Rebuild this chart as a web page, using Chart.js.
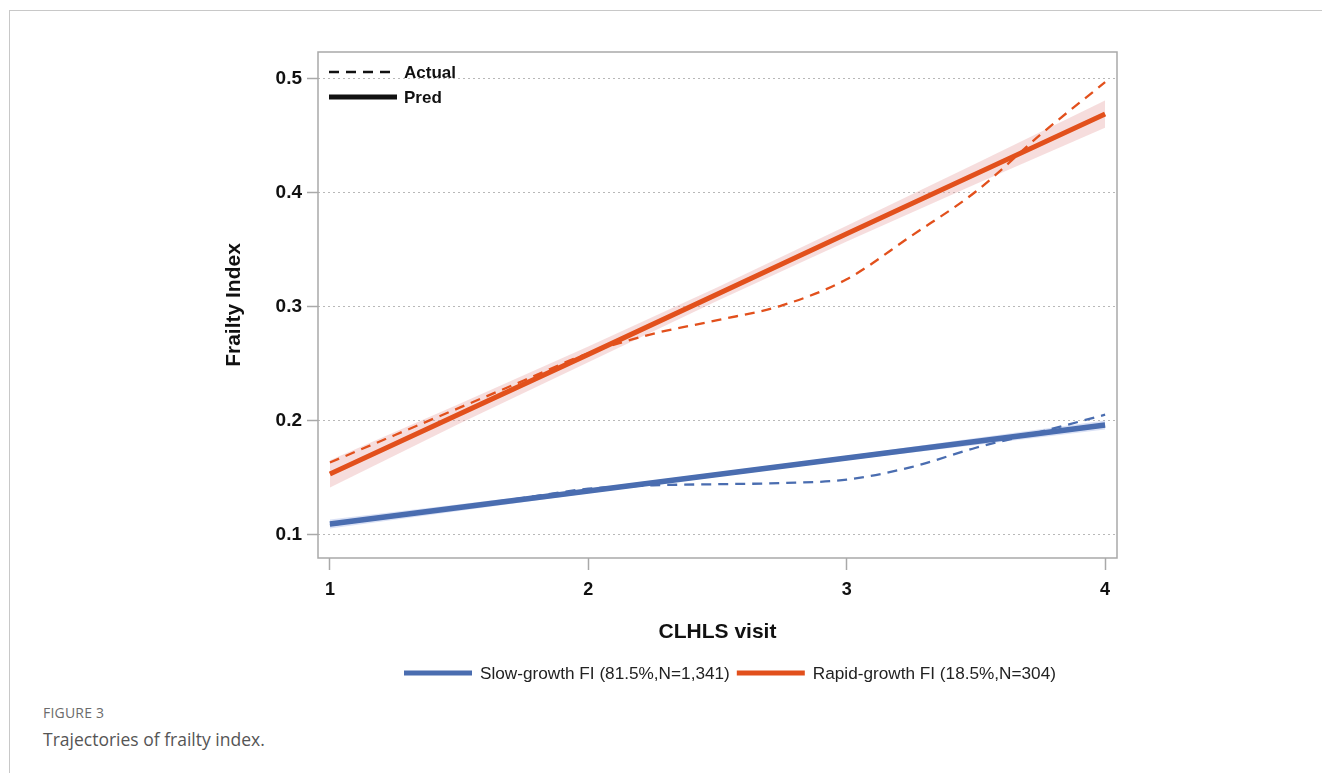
<!DOCTYPE html>
<html>
<head>
<meta charset="utf-8">
<script src="https://cdn.jsdelivr.net/npm/chart.js@4"></script>
<style>
  body { margin: 0; background: #fff; width: 1322px; height: 773px; overflow: hidden; position: relative; }
  .frame { position: absolute; left: 9px; top: 10px; right: 0; bottom: 0; border-top: 1.5px solid #c8c8c8; border-left: 1.5px solid #c8c8c8; }
  #wrap { position: absolute; left: 200px; top: 30px; width: 960px; height: 670px; }
  .figno { position: absolute; left: 43px; top: 703px; font: 14px "Open Sans", Lato, sans-serif; color: #6b6b6b; letter-spacing: 0.2px; }
  .figcap { position: absolute; left: 43px; top: 727px; font: 17.5px "Open Sans", Lato, sans-serif; color: #555; }
</style>
</head>
<body>
<div class="frame"></div>
<div id="wrap"><canvas id="myChart" width="960" height="670"></canvas></div>
<div class="figno">FIGURE 3</div>
<div class="figcap">Trajectories of frailty index.</div>
<script>
const visits = [1, 2, 3, 4];
const yTicks = [0.1, 0.2, 0.3, 0.4, 0.5];

// predicted trajectories (linear)
const slowPred = [0.109, 0.138, 0.167, 0.196];
const rapidPred = [0.153, 0.258, 0.364, 0.469];

// observed means
const actualX = [1, 1.25, 1.5, 1.75, 2, 2.25, 2.5, 2.75, 3, 3.25, 3.5, 3.75, 4];
const slowActual = [0.108, 0.116, 0.124, 0.132, 0.140, 0.143, 0.144, 0.145, 0.148, 0.159, 0.176, 0.190, 0.205];
const rapidActual = [0.163, 0.187, 0.211, 0.235, 0.259, 0.276, 0.288, 0.301, 0.324, 0.362, 0.401, 0.451, 0.497];

// confidence bands
const bandX = [1, 1.5, 2, 2.5, 3, 3.5, 4];
const slowLow = [0.105, 0.1205, 0.136, 0.1505, 0.165, 0.1785, 0.192];
const slowHigh = [0.113, 0.1265, 0.140, 0.1545, 0.169, 0.1845, 0.200];
const rapidLow = [0.141, 0.197, 0.251, 0.305, 0.357, 0.4075, 0.457];
const rapidHigh = [0.165, 0.2145, 0.265, 0.317, 0.371, 0.4255, 0.481];

const groupNames = ["Slow-growth FI (81.5%,N=1,341)", "Rapid-growth FI (18.5%,N=304)"];

const BLUE = "#4a6db0";
const ORANGE = "#e2501c";
const FONT = "'Liberation Sans', Arial, sans-serif";

function pts(xs, ys) {
  return xs.map((x, i) => ({ x: x, y: ys[i] }));
}

const extras = {
  id: "extras",
  afterDatasetsDraw(chart) {
    const ctx = chart.ctx;
    const a = chart.chartArea;
    ctx.save();
    // plot frame
    ctx.strokeStyle = "#a9a9a9";
    ctx.lineWidth = 1.5;
    ctx.strokeRect(a.left, a.top, a.right - a.left, a.bottom - a.top);

    // inner legend (Actual / Pred)
    ctx.strokeStyle = "#111";
    ctx.lineCap = "butt";
    ctx.lineWidth = 2.5;
    ctx.setLineDash([10, 7]);
    ctx.beginPath(); ctx.moveTo(129, 42); ctx.lineTo(196, 42); ctx.stroke();
    ctx.setLineDash([]);
    ctx.lineWidth = 5;
    ctx.beginPath(); ctx.moveTo(129, 67); ctx.lineTo(197, 67); ctx.stroke();
    ctx.fillStyle = "#111";
    ctx.font = "bold 17px " + FONT;
    ctx.textBaseline = "middle";
    ctx.fillText("Actual", 204, 43);
    ctx.fillText("Pred", 204, 68);

    // bottom legend
    ctx.font = "17.2px " + FONT;
    ctx.fillStyle = "#222";
    let x = 204;
    const y = 643;
    [BLUE, ORANGE].forEach((c, i) => {
      ctx.strokeStyle = c;
      ctx.lineWidth = 5;
      ctx.beginPath(); ctx.moveTo(x, y); ctx.lineTo(x + 68, y); ctx.stroke();
      x += 76;
      ctx.fillText(groupNames[i], x, y + 1);
      x += ctx.measureText(groupNames[i]).width + 7;
    });
    ctx.restore();
  }
};

const ctx = document.getElementById("myChart").getContext("2d");
new Chart(ctx, {
  type: "line",
  data: {
    datasets: [
      { data: pts(bandX, rapidHigh), order: 10, borderWidth: 0, pointRadius: 0, fill: "+1", backgroundColor: "rgba(226,150,150,0.32)" },
      { data: pts(bandX, rapidLow), order: 11, borderWidth: 0, pointRadius: 0, fill: false },
      { data: pts(bandX, slowHigh), order: 12, borderWidth: 0, pointRadius: 0, fill: "+1", backgroundColor: "rgba(150,170,225,0.35)" },
      { data: pts(bandX, slowLow), order: 13, borderWidth: 0, pointRadius: 0, fill: false },
      { label: groupNames[0], order: 3, data: pts(visits, slowPred), borderColor: BLUE, borderWidth: 5.5, pointRadius: 0 },
      { label: groupNames[1], order: 2, data: pts(visits, rapidPred), borderColor: ORANGE, borderWidth: 5, pointRadius: 0 },
      { order: 1, data: pts(actualX, slowActual), borderColor: BLUE, borderWidth: 2.3, borderDash: [10, 7], pointRadius: 0, cubicInterpolationMode: "monotone" },
      { order: 0, data: pts(actualX, rapidActual), borderColor: ORANGE, borderWidth: 2.3, borderDash: [10, 7], pointRadius: 0, cubicInterpolationMode: "monotone" }
    ]
  },
  options: {
    responsive: false,
    animation: false,
    layout: { padding: { top: 22, right: 43, left: 0, bottom: 0 } },
    plugins: { legend: { display: false }, tooltip: { enabled: false } },
    scales: {
      x: {
        type: "linear",
        min: 0.954,
        max: 4.046,
        afterBuildTicks: (s) => { s.ticks = visits.map(v => ({ value: v })); },
        afterFit: (s) => { s.height = 142; },
        grid: { drawOnChartArea: false, tickLength: 12, tickColor: "#a9a9a9", tickWidth: 1.5 },
        border: { display: false },
        ticks: { padding: 9, color: "#111", font: { family: FONT, size: 18, weight: "bold" }, callback: (v) => v },
        title: { display: true, text: "CLHLS visit", color: "#111", font: { family: FONT, size: 21, weight: "bold" }, padding: { top: 0, bottom: 55 } }
      },
      y: {
        min: 0.0792,
        max: 0.5235,
        afterBuildTicks: (s) => { s.ticks = yTicks.map(v => ({ value: v })); },
        afterFit: (s) => { s.width = 118; },
        grid: { color: "#b8b8b8", lineWidth: 1, tickLength: 11, tickColor: "#a9a9a9", tickWidth: 1.5, tickBorderDash: [] },
        border: { display: false, dash: [2, 3] },
        ticks: { padding: 5, color: "#111", font: { family: FONT, size: 19, weight: "bold" }, callback: (v) => v.toFixed(1) },
        title: { display: true, text: "Frailty Index", color: "#111", font: { family: FONT, size: 21, weight: "bold" }, padding: { top: 22, bottom: 0 } }
      }
    }
  },
  plugins: [extras]
});
</script>
</body>
</html>
